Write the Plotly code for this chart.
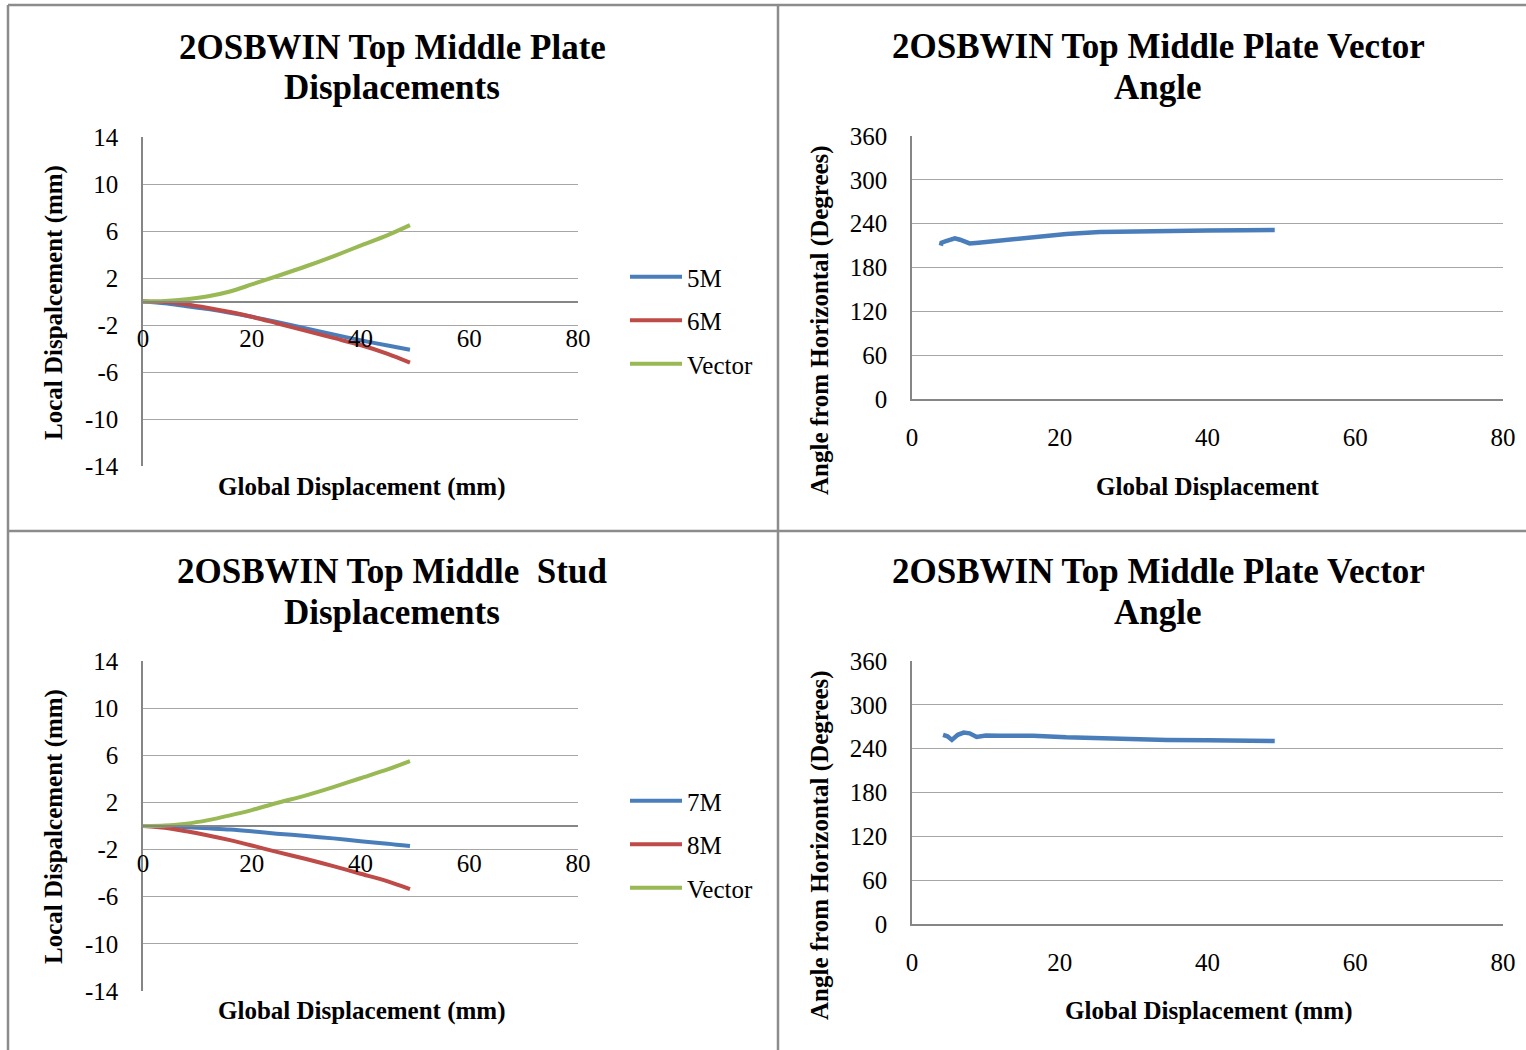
import plotly.graph_objects as go

# ---- data: plate / stud local displacements vs global displacement (mm) ----
gd = [0, 4, 8, 12, 16, 20, 24.6, 30, 35, 40, 45, 49.1]

plate_5m = [0, -0.15, -0.4, -0.65, -0.95, -1.3, -1.75, -2.3, -2.8, -3.3, -3.75, -4.1]
plate_6m = [0, -0.05, -0.25, -0.55, -0.9, -1.3, -1.85, -2.5, -3.1, -3.7, -4.45, -5.2]
plate_vec = [0, 0.05, 0.2, 0.45, 0.85, 1.45, 2.15, 3.0, 3.85, 4.75, 5.65, 6.5]

stud_7m = [0, 0, -0.1, -0.2, -0.3, -0.45, -0.65, -0.85, -1.05, -1.3, -1.5, -1.7]
stud_8m = [0, -0.15, -0.45, -0.8, -1.2, -1.65, -2.2, -2.8, -3.4, -4.05, -4.7, -5.35]
stud_vec = [0, 0.05, 0.2, 0.5, 0.9, 1.35, 1.95, 2.6, 3.3, 4.05, 4.8, 5.5]

# ---- vector angle (degrees from horizontal) ----
ang1_x = [3.9, 4.0, 4.6, 5.8, 6.5, 7.2, 7.8, 9, 10, 12, 14, 16.4, 18, 20.9, 25.4, 30, 34.5, 40, 45, 49.1]
ang1_y = [210, 214, 216, 220, 218, 216, 213, 214, 215, 216, 219, 221, 223, 226, 228.5, 229.5, 230, 230.5, 231, 231.5]

ang2_x = [4.2, 4.8, 5.4, 6.2, 7.0, 7.8, 8.75, 10, 11.9, 14, 16.4, 20.9, 25.4, 30, 34.5, 40, 45, 49.1]
ang2_y = [259, 257, 252, 259, 262, 261, 256, 258, 257.8, 257.5, 257.8, 255.5, 254, 253, 252, 251.5, 251, 250.5]

disp_ticks = [14, 10, 6, 2, -2, -6, -10, -14]
disp_labels = ["14", "10", "6", "2", "-2", "-6", "-10", "-14"]
angle_ticks = [0, 60, 120, 180, 240, 300, 360]
gx_ticks = [0, 20, 40, 60, 80]

BLUE = "#4A7EBB"
RED = "#BE4B48"
GREEN = "#98B954"
GRID = "#A6A6A6"
AXIS = "#868686"
BORDER = "#8C8C8C"
SERIF = "Liberation Serif, Times New Roman, serif"

W, H = 1526, 1050


def px(x):
    return x / W


def py(y):
    return 1 - y / H


fig = go.Figure()

LW = 4
smooth = dict(shape="spline", smoothing=0.8)
# top-left panel
fig.add_trace(go.Scatter(x=gd, y=plate_5m, name="5M", mode="lines", line=dict(color=BLUE, width=LW, **smooth),
                         xaxis="x", yaxis="y", legend="legend", legendgroup="a"))
fig.add_trace(go.Scatter(x=gd, y=plate_6m, name="6M", mode="lines", line=dict(color=RED, width=LW, **smooth),
                         xaxis="x", yaxis="y", legend="legend", legendgroup="b"))
fig.add_trace(go.Scatter(x=gd, y=plate_vec, name="Vector", mode="lines", line=dict(color=GREEN, width=LW, **smooth),
                         xaxis="x", yaxis="y", legend="legend", legendgroup="c"))
# top-right panel
fig.add_trace(go.Scatter(x=ang1_x, y=ang1_y, mode="lines", line=dict(color=BLUE, width=LW + 0.5),
                         xaxis="x2", yaxis="y2", showlegend=False))
# bottom-left panel
fig.add_trace(go.Scatter(x=gd, y=stud_7m, name="7M", mode="lines", line=dict(color=BLUE, width=LW, **smooth),
                         xaxis="x3", yaxis="y3", legend="legend2", legendgroup="d"))
fig.add_trace(go.Scatter(x=gd, y=stud_8m, name="8M", mode="lines", line=dict(color=RED, width=LW, **smooth),
                         xaxis="x3", yaxis="y3", legend="legend2", legendgroup="e"))
fig.add_trace(go.Scatter(x=gd, y=stud_vec, name="Vector", mode="lines", line=dict(color=GREEN, width=LW, **smooth),
                         xaxis="x3", yaxis="y3", legend="legend2", legendgroup="f"))
# bottom-right panel
fig.add_trace(go.Scatter(x=ang2_x, y=ang2_y, mode="lines", line=dict(color=BLUE, width=LW + 0.5),
                         xaxis="x4", yaxis="y4", showlegend=False))

tickfont = dict(family=SERIF, size=25, color="black")

left_x = [px(143), px(578)]
right_x = [px(912), px(1503)]
tl_y = [py(466), py(137)]
bl_y = [py(991), py(661)]
tr_y = [py(399), py(136)]
br_y = [py(924), py(661)]


def disp_xaxis(ydom):
    return dict(domain=left_x, range=[0, 80], tickvals=gx_ticks, showgrid=False, zeroline=False,
                showline=True, linecolor=AXIS, linewidth=1.5, anchor="free",
                position=(ydom[0] + ydom[1]) / 2, ticks="outside", ticklen=15,
                tickcolor="rgba(0,0,0,0)", tickfont=tickfont, fixedrange=True)


def disp_yaxis(ydom, xname):
    return dict(domain=ydom, range=[-14, 14], tickvals=disp_ticks, ticktext=disp_labels,
                showgrid=True, gridcolor=GRID, gridwidth=1.2, zeroline=False, showline=True,
                linecolor=AXIS, linewidth=1.5, anchor=xname, ticks="outside", ticklen=18,
                tickcolor="rgba(0,0,0,0)", tickfont=tickfont)


def ang_xaxis(ydom, yname):
    return dict(domain=right_x, range=[0, 80], tickvals=gx_ticks, showgrid=False, zeroline=False,
                showline=True, linecolor=AXIS, linewidth=1.5, anchor=yname, ticks="outside",
                ticklen=15, tickcolor="rgba(0,0,0,0)", tickfont=tickfont)


def ang_yaxis(ydom, xname):
    return dict(domain=ydom, range=[0, 360], tickvals=angle_ticks, showgrid=True, gridcolor=GRID,
                gridwidth=1.2, zeroline=False, showline=True, linecolor=AXIS, linewidth=1.5,
                anchor=xname, ticks="outside", ticklen=18, tickcolor="rgba(0,0,0,0)",
                tickfont=tickfont)


legend_common = dict(font=dict(family=SERIF, size=25, color="black"), bgcolor="rgba(0,0,0,0)",
                     traceorder="grouped", tracegroupgap=8, itemwidth=52, xanchor="left",
                     yanchor="top")

fig.update_layout(
    width=W, height=H, margin=dict(l=0, r=0, t=0, b=0, autoexpand=False),
    paper_bgcolor="white", plot_bgcolor="white",
    xaxis=disp_xaxis(tl_y), yaxis=disp_yaxis(tl_y, "x"),
    xaxis2=ang_xaxis(tr_y, "y2"), yaxis2=ang_yaxis(tr_y, "x2"),
    xaxis3=disp_xaxis(bl_y), yaxis3=disp_yaxis(bl_y, "x3"),
    xaxis4=ang_xaxis(br_y, "y4"), yaxis4=ang_yaxis(br_y, "x4"),
    legend=dict(x=px(625), y=py(254), **legend_common),
    legend2=dict(x=px(625), y=py(778), **legend_common),
)

title_font = dict(family=SERIF, size=35, color="black")
label_font = dict(family=SERIF, size=25, color="black")

# chart titles, one annotation per line
annotations = [
    dict(text="<b>2OSBWIN Top Middle Plate</b>", x=px(392), y=py(47)),
    dict(text="<b>Displacements</b>", x=px(392), y=py(88)),
    dict(text="<b>2OSBWIN Top Middle Plate Vector</b>", x=px(1158), y=py(46)),
    dict(text="<b>Angle</b>", x=px(1158), y=py(87)),
    dict(text="<b>2OSBWIN Top Middle  Stud</b>", x=px(392), y=py(571)),
    dict(text="<b>Displacements</b>", x=px(392), y=py(612)),
    dict(text="<b>2OSBWIN Top Middle Plate Vector</b>", x=px(1158), y=py(571)),
    dict(text="<b>Angle</b>", x=px(1158), y=py(612)),
]
for a in annotations:
    a.update(xref="paper", yref="paper", showarrow=False, font=title_font,
             xanchor="center", yanchor="middle")

axis_titles = [
    dict(text="<b>Global Displacement (mm)</b>", x=px(361), y=py(487)),
    dict(text="<b>Global Displacement</b>", x=px(1208), y=py(486)),
    dict(text="<b>Global Displacement (mm)</b>", x=px(361), y=py(1011)),
    dict(text="<b>Global Displacement (mm)</b>", x=px(1208), y=py(1011)),
    dict(text="<b>Local Dispalcement (mm)</b>", x=px(54), y=py(303), textangle=-90),
    dict(text="<b>Angle from Horizontal (Degrees)</b>", x=px(820), y=py(320), textangle=-90),
    dict(text="<b>Local Dispalcement (mm)</b>", x=px(54), y=py(827), textangle=-90),
    dict(text="<b>Angle from Horizontal (Degrees)</b>", x=px(820), y=py(845), textangle=-90),
]
for a in axis_titles:
    a.update(xref="paper", yref="paper", showarrow=False, font=label_font,
             xanchor="center", yanchor="middle")

fig.update_layout(annotations=annotations + axis_titles)

# panel frame lines
border = dict(color=BORDER, width=2.5)
frame = [
    (8, 5, 778, 5), (778, 5, 1526, 5),
    (8, 5, 8, 1050), (778, 5, 778, 1050),
    (8, 531, 1526, 531),
]
fig.update_layout(shapes=[
    dict(type="line", xref="paper", yref="paper", x0=px(a), y0=py(b), x1=px(c), y1=py(d), line=border)
    for a, b, c, d in frame
])

fig.write_html("out.html")
